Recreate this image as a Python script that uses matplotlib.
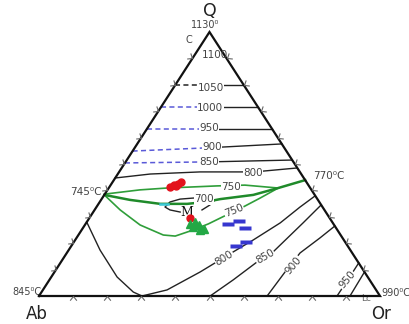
import numpy as np
import matplotlib.pyplot as plt
from matplotlib.markers import MarkerStyle
from matplotlib.path import Path
from matplotlib.transforms import Affine2D

# compositions are given as wt% Q and wt% Or (Ab = 100 - Q - Or)

# quartz-field isotherms: dashed from the Ab-Q side to the label, solid to the Q-Or side
q_temps = ["1050", "1000", "950", "900", "850"]
q_side_ab = [80.0, 71.6, 63.4, 54.9, 50.4]
q_mid = [80.0, 71.6, 63.4, 56.2, 50.8]
or_mid = [10.4, 14.3, 18.2, 22.5, 24.5]
q_side_or = [80.0, 71.6, 63.4, 57.6, 51.5]
dash_cols = ["#222222", "#5a5ad8", "#5a5ad8", "#5a5ad8", "#5a5ad8"]
q_lab_q = [78.8, 71.2, 63.8, 56.4, 50.8]
q_lab_or = [11.0, 14.6, 18.0, 22.5, 24.5]

# 800 isotherm above the cotectic
iso800_q = [44.7, 46.2, 47.0, 47.0, 47.3, 48.5]
iso800_or = [0.0, 9.5, 23.7, 36.3, 42.0, 51.5]

# cotectic curves from 745 C (Ab-Q side) to 770 C (Q-Or side)
up750_q = [38.6, 40.2, 40.9, 41.7, 42.0, 40.9]
up750_or = [0.0, 9.5, 17.1, 31.3, 39.4, 49.7]
cot_q = [38.3, 36.4, 34.9, 34.9, 35.6, 36.7, 38.3, 40.9, 43.9]
cot_or = [0.0, 8.5, 18.1, 26.0, 30.9, 34.8, 43.7, 49.7, 56.1]
lo750_q = [38.3, 32.6, 26.9, 23.1, 22.7, 24.6, 27.3, 29.9, 33.7, 37.1, 40.9]
lo750_or = [0.0, 7.5, 16.2, 24.9, 28.6, 32.0, 36.0, 38.8, 43.0, 46.3, 49.7]

# 700 loop around the minimum M
iso700_q = [31.8, 32.6, 33.7, 35.6, 36.7, 37.1, 37.1, 36.4, 34.5, 32.6]
iso700_or = [25.5, 22.1, 20.1, 20.6, 23.0, 26.7, 29.9, 33.4, 32.9, 31.5]

# feldspar-field isotherms
lo800_q = [28.0, 17.4, 7.2, 1.5, 0.0, 2.3, 9.1, 16.7, 21.2, 27.7, 33.7, 37.9]
lo800_or = [0.0, 9.2, 19.3, 26.9, 30.2, 36.4, 42.7, 48.6, 52.2, 56.9, 59.7, 62.0]
lo850_q = [0.0, 6.1, 12.9, 16.7, 27.7, 34.5]
lo850_or = [50.2, 53.9, 57.5, 60.3, 63.6, 65.5]
lo900_q = [0.0, 9.1, 16.3, 22.0, 26.5]
lo900_or = [66.9, 67.6, 68.4, 71.4, 73.5]
lo950_q = [0.0, 6.1, 12.5]
lo950_or = [87.4, 87.5, 87.5]
lc_q = [0.0, 9.1]
lc_or = [91.2, 90.9]

# labels on the curves: text, Q, Or, rotation
curve_labels = [
    ("800", 46.6, 39.5, 0), ("750", 41.3, 35.7, 0), ("700", 36.7, 30.1, 0),
    ("750", 32.2, 41.1, 22), ("800", 14.4, 47.1, 32), ("850", 14.8, 58.9, 30),
    ("900", 11.7, 68.7, 50), ("950", 6.1, 87.3, 50),
]

# sample points
red_q = [41.3, 42.0, 42.4, 43.2, 41.7, 29.5]
red_or = [17.8, 18.6, 19.6, 20.0, 19.4, 29.6]
grn_q = [27.3, 28.0, 26.9, 26.1, 25.4, 25.0]
grn_or = [30.7, 31.8, 33.5, 32.2, 35.7, 34.7]
blu_q = [27.3, 28.4, 25.9, 18.9, 20.6]
blu_or = [41.7, 44.5, 47.5, 48.4, 50.4]


def xy(q, orr):
    q = np.asarray(q, dtype=float) / 100
    orr = np.asarray(orr, dtype=float) / 100
    return orr + q / 2, q


fig = plt.figure(figsize=(4.09, 3.24), dpi=100)
ax = fig.add_axes([0, 0, 1, 1])
sx, sy = 341.0, 264.0
ax.set_xlim(-39 / sx, 370 / sx)
ax.set_ylim(-28 / sy, 296 / sy)
ax.axis("off")

# triangle
ax.plot([0, 1, 0.5, 0], [0, 0, 1, 0], color="#111111", lw=1.6, zorder=5,
        solid_joinstyle="miter")

# chevron ticks every 10 %
chev = Path([(-0.8, -1), (0, 0), (0.8, -1)], [Path.MOVETO, Path.LINETO, Path.LINETO])
t = np.arange(1, 10) / 10
sides = [
    (t, np.zeros_like(t), -90.0),
    (t / 2, t, np.degrees(np.arctan2(0.5 * sx, -sy))),
    (1 - t / 2, t, np.degrees(np.arctan2(0.5 * sx, sy))),
]
for tx, ty, ang in sides:
    m = MarkerStyle(chev, fillstyle="none", transform=Affine2D().rotate_deg(ang + 90))
    ax.plot(tx, ty, ls="none", marker=m, ms=6, mec="#666666", mew=0.8, zorder=6)

# quartz-field isotherms
for i in range(len(q_temps)):
    x0, y0 = xy([q_side_ab[i], q_mid[i]], [0, or_mid[i]])
    ax.plot(x0, y0, color=dash_cols[i], lw=1.1, dashes=(3.3, 2.2))
    x1, y1 = xy([q_mid[i], q_side_or[i]], [or_mid[i], 100 - q_side_or[i]])
    ax.plot(x1, y1, color="#222222", lw=1.0)
    lx, ly = xy(q_lab_q[i], q_lab_or[i])
    ax.text(lx, ly, q_temps[i], fontsize=7.5, color="#444444", ha="center", va="center",
            bbox=dict(fc="white", ec="none", pad=0.3), zorder=4)

lx, ly = xy(91.3, 6.0)
ax.text(lx, ly, "1100", fontsize=7.5, color="#444444", ha="center", va="center", zorder=7)

for qs, os_ in [(iso800_q, iso800_or), (lo800_q, lo800_or), (lo850_q, lo850_or),
                (lo900_q, lo900_or), (lo950_q, lo950_or), (lc_q, lc_or)]:
    x, y = xy(qs, os_)
    ax.plot(x, y, color="#222222", lw=1.0)

x, y = xy(iso700_q, iso700_or)
ax.plot(x, y, color="#222222", lw=1.0)

# cotectics
x, y = xy(up750_q, up750_or)
ax.plot(x, y, color="#2f9e3a", lw=1.2)
x, y = xy(lo750_q, lo750_or)
ax.plot(x, y, color="#2f9e3a", lw=1.2)
x, y = xy(cot_q, cot_or)
ax.plot(x, y, color="#1f8a2a", lw=1.8)
x, y = xy([34.9, 34.9], [18.1, 20.4])
ax.plot(x, y, color="#3cc8d8", lw=1.8)

for txt, q, o, rot in curve_labels:
    lx, ly = xy(q, o)
    ax.text(lx, ly, txt, fontsize=7.5, color="#444444", ha="center", va="center",
            rotation=rot, bbox=dict(fc="white", ec="none", pad=0.3), zorder=4)

lx, ly = xy(31.8, 27.5)
ax.text(lx, ly, "M", fontsize=9, family="serif", color="#111111", ha="center",
        va="center", zorder=4)
lx, ly = xy(-1.1, 96.4)
ax.text(lx, ly, "Lc", fontsize=6.5, color="#666666", ha="center", va="center")

# samples
x, y = xy(red_q, red_or)
ax.plot(x, y, "o", color="#e3121c", ms=5, zorder=8)
x, y = xy(grn_q, grn_or)
ax.plot(x, y, "^", color="#23a845", ms=6, zorder=8)
rect = Path([(-3, -1), (3, -1), (3, 1), (-3, 1), (-3, -1)], closed=True)
x, y = xy(blu_q, blu_or)
ax.plot(x, y, ls="none", marker=rect, ms=8.6, color="#3737cf", mec="none", zorder=8)

# corner and invariant-point labels
corner = dict(textcoords="offset pixels", ha="center", va="center")
ax.annotate("Q", (0.5, 1), xytext=(0, 21), fontsize=12.5, color="#222222", **corner)
ax.annotate("1130⁰", (0.5, 1), xytext=(-4, 7), fontsize=7, color="#444444", **corner)
ax.annotate("C", (0.5, 1), xytext=(-21, -8), fontsize=7, color="#444444", **corner)
ax.annotate("Ab", (0, 0), xytext=(-2, -18), fontsize=12, color="#222222", **corner)
ax.annotate("Or", (1, 0), xytext=(1, -18), fontsize=12, color="#222222", **corner)
ax.annotate("845⁰C", (0, 0), xytext=(-12, 4), fontsize=7, color="#444444", **corner)
ax.annotate("990⁰C", (1, 0), xytext=(16, 3), fontsize=7, color="#444444", **corner)
x, y = xy(38.6, 0)
ax.annotate("745⁰C", (x, y), xytext=(-3, 2), textcoords="offset pixels", ha="right",
            va="center", fontsize=7.5, color="#444444")
x, y = xy(43.9, 56.1)
ax.annotate("770⁰C", (x, y), xytext=(8, 4), textcoords="offset pixels", ha="left",
            va="center", fontsize=7.5, color="#444444")

fig.savefig("out.png", dpi=100)
